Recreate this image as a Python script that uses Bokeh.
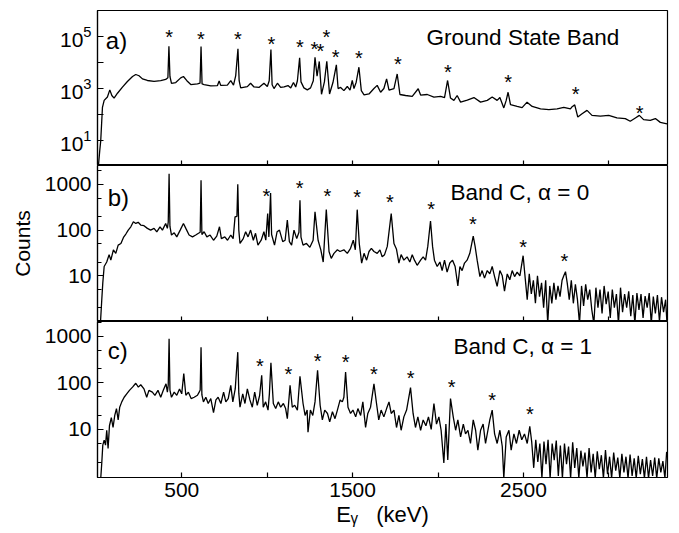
from bokeh.plotting import figure
from bokeh.layouts import column
from bokeh.models import (FixedTicker, Label, ColumnDataSource, Range1d,
                          BasicTickFormatter, LogTickFormatter)
from bokeh.core.properties import value
from bokeh.embed import file_html
from bokeh.resources import INLINE

FONT = "Liberation Sans"

# ---------------- data (energies in keV, counts) ----------------
x_ticks = [500, 1500, 2500]
x_minor = [1000, 2000, 3000]

# panel a) Ground State Band
e_a = [12, 20, 26, 36, 46, 65, 79, 91, 104, 124,
       153, 182, 212, 231, 250, 270, 299, 338, 377, 406,
       419, 425, 431, 440, 465, 494, 510, 530, 553, 592,
       607, 613, 619, 631, 670, 709, 719, 728, 767, 787,
       803, 816, 829, 836, 845, 884, 903, 923, 952, 981,
       1001, 1012, 1022, 1029, 1040, 1060, 1079, 1099, 1122, 1138,
       1154, 1167, 1177, 1190, 1198, 1215, 1235, 1254, 1270, 1280,
       1292, 1305, 1318, 1335, 1349, 1365, 1385, 1405, 1415, 1430,
       1449, 1469, 1485, 1498, 1508, 1521, 1537, 1551, 1567, 1596,
       1625, 1644, 1664, 1683, 1699, 1713, 1742, 1761, 1777, 1810,
       1849, 1884, 1898, 1937, 1976, 2015, 2038, 2056, 2073, 2093,
       2112, 2132, 2171, 2210, 2249, 2288, 2317, 2346, 2362, 2385,
       2399, 2410, 2424, 2463, 2492, 2521, 2551, 2600, 2649, 2697,
       2736, 2775, 2785, 2800, 2818, 2843, 2872, 2901, 2950, 2999,
       3047, 3096, 3125, 3155, 3178, 3203, 3242, 3272, 3301, 3340]
c_a = [1, 4, 10, 190, 350, 470, 890, 540, 425, 660,
       1130, 1860, 2900, 3470, 3100, 2350, 2040, 1900, 2000, 2230,
       2600, 41700, 2900, 1580, 1700, 2570, 2900, 2000, 1420, 1500,
       1600, 41700, 1500, 1420, 1260, 1300, 1940, 1320, 1350, 2000,
       1350, 3160, 33900, 2000, 1070, 1180, 1600, 1150, 1100, 1600,
       1200, 2000, 31600, 1400, 1000, 1600, 1100, 1150, 1300, 1060,
       1700, 1150, 2000, 15100, 1800, 1060, 890, 1060, 2000, 15800,
       3000, 11000, 600, 1800, 11200, 620, 1700, 8100, 1000, 1100,
       830, 1200, 870, 2040, 1000, 1750, 6600, 830, 570, 620,
       1000, 1320, 720, 1000, 2350, 870, 1000, 3630, 590, 540,
       500, 980, 560, 590, 470, 500, 450, 2040, 430, 350,
       540, 300, 360, 450, 300, 350, 470, 350, 450, 180,
       350, 720, 240, 205, 185, 300, 205, 165, 155, 165,
       190, 165, 200, 235, 80, 107, 145, 93, 87, 93,
       74, 70, 55, 74, 93, 64, 60, 70, 50, 44]

# panel b) Band C, alpha = 0
e_b = [24, 32, 38, 46, 61, 75, 85, 100, 114, 128,
       144, 159, 173, 187, 202, 217, 231, 245, 260, 279,
       299, 318, 338, 354, 373, 387, 406, 416, 421, 426,
       431, 440, 456, 471, 491, 510, 524, 543, 563, 582,
       598, 608, 613, 618, 631, 647, 666, 686, 705, 721,
       732, 752, 768, 787, 801, 812, 823, 828, 834, 841,
       860, 874, 888, 903, 919, 932, 946, 965, 981, 992,
       1003, 1010, 1020, 1026, 1043, 1058, 1072, 1091, 1105, 1118,
       1130, 1143, 1157, 1173, 1186, 1192, 1198, 1210, 1230, 1250,
       1269, 1280, 1298, 1314, 1328, 1346, 1362, 1375, 1391, 1411,
       1426, 1449, 1469, 1488, 1504, 1516, 1527, 1539, 1553, 1567,
       1582, 1596, 1610, 1625, 1644, 1660, 1673, 1687, 1703, 1726,
       1742, 1757, 1771, 1784, 1800, 1819, 1835, 1849, 1862, 1878,
       1898, 1913, 1927, 1940, 1956, 1968, 1979, 1995, 2011, 2024,
       2038, 2053, 2069, 2085, 2100, 2116, 2128, 2141, 2155, 2170,
       2186, 2206, 2217, 2229, 2245, 2258, 2272, 2288, 2303, 2317,
       2331, 2346, 2362, 2376, 2389, 2405, 2420, 2434, 2448, 2463,
       2479, 2498, 2510, 2522, 2534, 2546, 2558, 2570, 2582, 2594,
       2606, 2618, 2630, 2642, 2654, 2666, 2678, 2690, 2702, 2714,
       2726, 2736, 2746, 2756, 2768, 2780, 2792, 2804, 2816, 2828,
       2840, 2852, 2864, 2876, 2888, 2900, 2912, 2924, 2936, 2948,
       2960, 2972, 2984, 2996, 3008, 3020, 3032, 3044, 3056, 3068,
       3080, 3092, 3104, 3116, 3128, 3140, 3152, 3164, 3176, 3188,
       3200, 3212, 3224, 3236, 3248, 3260, 3272, 3284, 3296, 3308,
       3320, 3332, 3340]
c_b = [0.9, 3, 7, 16, 20, 29, 22, 37, 31, 47,
       51, 69, 82, 100, 118, 152, 140, 148, 129, 125,
       109, 100, 109, 91, 118, 100, 140, 109, 150, 1700,
       120, 78, 87, 71, 100, 140, 109, 78, 71, 78,
       85, 90, 1230, 80, 92, 71, 78, 60, 74, 118,
       65, 71, 60, 78, 65, 195, 200, 1000, 100, 51,
       65, 92, 71, 100, 60, 85, 47, 60, 92, 60,
       230, 71, 650, 80, 47, 92, 100, 56, 60, 165,
       56, 47, 100, 65, 90, 450, 70, 47, 51, 42,
       60, 250, 60, 37, 20, 280, 34, 24, 31, 37,
       34, 37, 31, 40, 60, 37, 280, 51, 19, 31,
       22, 34, 40, 34, 31, 37, 26, 29, 44, 230,
       51, 38, 19, 29, 22, 26, 20, 29, 22, 17,
       22, 26, 22, 44, 158, 44, 22, 16, 20, 13,
       22, 12, 19, 22, 16, 6, 16, 13, 19, 22,
       31, 74, 44, 22, 9.6, 13, 8.9, 13, 11, 16,
       9.6, 5.9, 13, 10, 4.6, 11, 8.2, 13, 9.6, 12,
       10, 27.5, 9, 3, 11, 4, 8, 2.5, 10, 3.5,
       7, 2, 8, 0.9, 6, 2.5, 7, 3, 6, 3.5,
       8, 10, 12.3, 7, 3, 8, 2.5, 6.5, 3, 0.9,
       6, 2.2, 6.5, 3, 5, 1.8, 0.9, 5.5, 2, 5,
       1.5, 6, 2.4, 4.5, 1.2, 5, 2, 4, 0.9, 5.5,
       1.6, 4, 2, 4.6, 1.3, 3.8, 0.9, 4.2, 1.8, 4,
       1.2, 3.6, 2, 4.2, 0.9, 3.5, 1.5, 3.8, 1, 3.4,
       1.6, 3, 0.9]

# panel c) Band C, alpha = 1
e_c = [26, 32, 38, 46, 54, 61, 69, 77, 88, 98,
       108, 118, 128, 137, 149, 163, 178, 194, 212, 231,
       246, 260, 279, 295, 308, 328, 343, 361, 377, 392,
       408, 416, 421, 426, 431, 440, 456, 471, 487, 500,
       512, 524, 539, 555, 573, 592, 602, 608, 613, 618,
       627, 641, 655, 670, 686, 700, 713, 729, 745, 758,
       772, 787, 799, 813, 828, 834, 841, 857, 870, 884,
       899, 913, 927, 942, 956, 968, 977, 991, 1005, 1013,
       1022, 1036, 1050, 1065, 1079, 1095, 1108, 1118, 1134, 1147,
       1161, 1177, 1192, 1210, 1222, 1234, 1239, 1253, 1267, 1280,
       1295, 1310, 1323, 1337, 1353, 1366, 1382, 1397, 1411, 1427,
       1440, 1449, 1459, 1473, 1488, 1502, 1518, 1531, 1547, 1560,
       1576, 1589, 1605, 1625, 1640, 1653, 1667, 1683, 1699, 1713,
       1726, 1742, 1757, 1771, 1784, 1800, 1816, 1839, 1854, 1868,
       1882, 1898, 1913, 1929, 1944, 1960, 1976, 1991, 2005, 2018,
       2034, 2046, 2057, 2073, 2089, 2103, 2116, 2132, 2148, 2161,
       2175, 2190, 2206, 2220, 2233, 2249, 2264, 2278, 2292, 2303,
       2317, 2331, 2346, 2362, 2376, 2385, 2399, 2415, 2428, 2444,
       2459, 2475, 2490, 2506, 2522, 2537, 2548, 2560, 2572, 2584,
       2596, 2608, 2620, 2632, 2644, 2656, 2668, 2680, 2692, 2704,
       2716, 2728, 2740, 2752, 2764, 2776, 2788, 2800, 2812, 2824,
       2836, 2848, 2860, 2872, 2884, 2896, 2908, 2920, 2932, 2944,
       2956, 2968, 2980, 2992, 3004, 3016, 3028, 3040, 3052, 3064,
       3076, 3088, 3100, 3112, 3124, 3136, 3148, 3160, 3172, 3184,
       3196, 3208, 3220, 3232, 3244, 3256, 3268, 3280, 3292, 3304,
       3316, 3328, 3338]
c_c = [0.9, 1.9, 4.6, 5.9, 4.6, 9.6, 3.9, 12, 18, 11,
       20, 28, 16, 30, 39, 49, 58, 69, 81, 98,
       81, 91, 74, 49, 69, 63, 54, 69, 49, 69,
       95, 63, 90, 880, 70, 49, 63, 54, 74, 58,
       158, 54, 63, 46, 49, 54, 63, 70, 580, 55,
       39, 49, 36, 46, 23, 43, 49, 36, 63, 39,
       46, 88, 39, 74, 455, 60, 30, 58, 36, 74,
       43, 30, 63, 33, 54, 145, 30, 39, 26, 58,
       270, 36, 28, 39, 30, 36, 28, 17, 88, 30,
       33, 26, 138, 36, 20, 26, 8.7, 26, 20, 39,
       185, 33, 16, 26, 22, 14.5, 24, 17, 26, 43,
       39, 49, 170, 30, 22, 26, 18.6, 28, 20, 39,
       11, 22, 30, 95, 36, 16, 26, 18.6, 28, 39,
       22, 26, 11, 20, 9.6, 18.6, 26, 79, 22, 11,
       18.6, 9.6, 16, 12, 18.6, 10, 36, 13, 18.6, 9.6,
       1.9, 13, 2.2, 46, 18.6, 9.6, 16, 6.9, 13, 8,
       9.6, 5, 16, 9.6, 3.6, 9.6, 13, 5, 9.6, 16,
       26, 8, 5, 9.6, 4.3, 0.9, 6.9, 9.6, 3.6, 8,
       5, 9.6, 6, 8, 5, 11.7, 5.5, 1.5, 6, 2,
       5, 0.9, 5.5, 1.8, 6, 0.9, 5, 2.2, 5.8, 1,
       4.5, 0.9, 5, 1.8, 4.3, 0.9, 5.3, 1.5, 4, 0.9,
       3.5, 1.6, 3.2, 0.9, 4, 1.2, 3, 0.9, 3.4, 1.4,
       2.8, 0.9, 3.6, 1.1, 2.6, 0.9, 3.2, 1.3, 2.5, 0.9,
       3, 1.2, 2.6, 0.9, 2.9, 1, 2.4, 0.9, 2.7, 1.1,
       2.3, 0.9, 2.6, 0.9, 2.2, 1, 2.5, 0.9, 2.4, 1.2,
       2.1, 0.9, 3.3]

# asterisk markers (energy, height in counts)
star_e_a = [426, 612, 829, 1025, 1192, 1277, 1312, 1346, 1401, 1537, 1765, 2057, 2411, 2806, 3180]
star_c_a = [119000, 91700, 91700, 60300, 49200, 41200, 33600, 119000, 20300, 17800, 10300, 5250, 2150, 720, 135]
star_e_b = [995, 1190, 1352, 1527, 1718, 1960, 2204, 2498, 2740]
star_c_b = [630, 905, 630, 577, 465, 321, 151, 47, 23]
star_e_c = [958, 1124, 1295, 1459, 1625, 1839, 2079, 2317, 2537]
star_c_c = [257, 170, 328, 312, 170, 137, 88, 48, 23.6]

y_ticks_a = [10, 1000, 100000]
y_minor_a = [1, 100, 10000, 1000000]
y_ticks_bc = [10, 100, 1000]
y_minor_bc = [2, 5, 20, 50, 200, 500, 2000]

X_RANGE = (7, 3343)


def make_panel(y_range, frame_h, top, bottom, yticks, yminor, ytick_minor_len):
    p = figure(x_range=Range1d(*X_RANGE), y_range=Range1d(*y_range),
               y_axis_type="log", frame_width=570, frame_height=frame_h,
               min_border_left=97, min_border_right=12,
               min_border_top=top, min_border_bottom=bottom,
               output_backend="svg", toolbar_location=None)
    p.grid.visible = False
    p.outline_line_color = "black"
    p.outline_line_width = 1.2
    p.background_fill_color = "white"
    p.border_fill_color = "white"
    for ax in p.axis:
        ax.axis_line_color = "black"
        ax.axis_line_width = 1.2
        ax.major_tick_line_color = "black"
        ax.minor_tick_line_color = "black"
        ax.major_tick_line_width = 1.2
        ax.minor_tick_line_width = 1.2
        ax.major_tick_out = 0
        ax.minor_tick_out = 0
        ax.major_label_text_font = FONT
        ax.major_label_text_color = "black"
        ax.major_label_text_font_size = "21px"
        ax.axis_label_text_font = FONT
        ax.axis_label_text_font_style = "normal"
        ax.axis_label_text_color = "black"
    p.xaxis.ticker = FixedTicker(ticks=x_ticks, minor_ticks=x_minor)
    p.xaxis.major_tick_in = 5
    p.xaxis.minor_tick_in = 5
    p.yaxis.ticker = FixedTicker(ticks=yticks, minor_ticks=yminor)
    p.yaxis.major_tick_in = 6
    p.yaxis.minor_tick_in = ytick_minor_len
    p.yaxis.major_label_standoff = 6
    return p


def hide_x_labels(p):
    p.xaxis.major_label_text_font_size = "0px"
    p.xaxis.major_label_text_color = None
    p.xaxis.major_label_standoff = 0


def add_line(p, e, c):
    p.line(x=e, y=c, line_color="black", line_width=1.3)


def add_stars(p, e, c):
    src = ColumnDataSource(dict(e=e, c=c, t=["*"] * len(e)))
    p.text(x="e", y="c", text="t", source=src, text_font=value(FONT),
           text_font_size="20px", text_align="center", text_baseline="middle",
           y_offset=2, text_color="black")


def add_label(p, x, y, text, size, baseline="middle"):
    p.add_layout(Label(x=x, y=y, x_units="data", y_units="data", text=text,
                       text_font=FONT, text_font_size=size, text_color="black",
                       text_align="left", text_baseline=baseline))


# panel a
pa = make_panel((1.1, 1e6), 155, 10, 0, y_ticks_a, y_minor_a, 6)
pa.yaxis.formatter = LogTickFormatter()
hide_x_labels(pa)
add_line(pa, e_a, c_a)
add_stars(pa, star_e_a, star_c_a)
add_label(pa, 56, 70000, "a)", "24px")
add_label(pa, 1933, 91000, "Ground State Band", "22.5px")

# panel b
pb = make_panel((1, 2590), 156, 0, 0, y_ticks_bc, y_minor_bc, 4)
pb.yaxis.formatter = BasicTickFormatter()
pb.yaxis.axis_label = "Counts"
pb.yaxis.axis_label_text_font_size = "21px"
pb.yaxis.axis_label_standoff = 8
hide_x_labels(pb)
add_line(pb, e_b, c_b)
add_stars(pb, star_e_b, star_c_b)
add_label(pb, 67, 520, "b)", "24px")
add_label(pb, 2073, 680, "Band C, α = 0", "22.5px")

# panel c
pc = make_panel((0.93, 2070), 156, 0, 56, y_ticks_bc, y_minor_bc, 4)
pc.yaxis.formatter = BasicTickFormatter()
pc.xaxis.major_label_standoff = 5
pc.xaxis.axis_label = "E\u1d67\u00a0\u00a0 (keV)"
pc.xaxis.axis_label_text_font_size = "22px"
pc.xaxis.axis_label_standoff = 2
add_line(pc, e_c, c_c)
add_stars(pc, star_e_c, star_c_c)
add_label(pc, 67, 490, "c)", "24px")
add_label(pc, 2090, 600, "Band C, α = 1", "22.5px")

layout = column(pa, pb, pc, spacing=0)

open("out.html", "w").write(file_html(layout, INLINE))
